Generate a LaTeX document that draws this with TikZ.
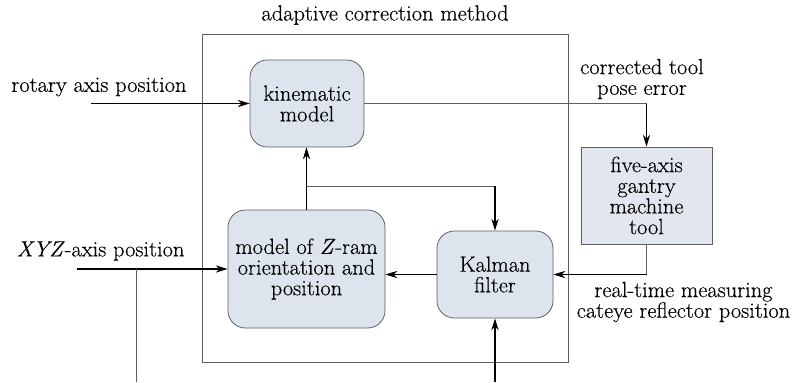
\documentclass[tikz,border=0pt]{standalone}
\usepackage{fontspec}
\setmainfont{Latin Modern Roman}[FakeStretch=1.02, FakeBold=0.3]
\usepackage{tikz}
\usetikzlibrary{arrows.meta,positioning}

\definecolor{blockfill}{RGB}{221,228,238}
\definecolor{plantfill}{RGB}{226,231,239}
\definecolor{edgegray}{RGB}{95,95,95}

\tikzset{
  block/.style={draw=edgegray, fill=blockfill, rounded corners=13pt, align=center, inner sep=0pt, line width=0.6pt},
  plant/.style={draw=edgegray, fill=plantfill, align=center, inner sep=0pt, line width=0.6pt},
  feed/.style={line width=0.9pt, -{Stealth[length=9pt,width=5.5pt,inset=3pt]}},
  wire/.style={draw=edgegray, line width=0.5pt},
  lbl/.style={align=center, inner sep=0.75pt},
}

\begin{document}
\begin{tikzpicture}[x=0.75pt,y=0.75pt,yscale=-1,xscale=1,
  every node/.style={font=\fontsize{16.5}{15.5}\selectfont}]
\useasboundingbox (0,0) rectangle (798,382);

%Frame of the correction method
\draw [draw=edgegray, line width=0.6pt] (202,34) rectangle (568,362);
\node [lbl] (title) at (385,15) {adaptive correction method};

%Blocks
\node [block, minimum width=85.5pt, minimum height=65.25pt] (kin) at (307,103.5) {kinematic\\model};
\node [block, minimum width=117.75pt, minimum height=88.5pt] (zram) at (306.5,269) {model of \textit{Z}-ram\\orientation and\\position};
\node [block, minimum width=87pt, minimum height=65.25pt] (kal) at (495,274.5) {Kalman\\filter};
\node [plant, minimum width=98.25pt, minimum height=72.75pt] (mach) at (646.5,195.5) {five-axis\\gantry\\machine\\tool};

%Text labels
\node [lbl] (rotlbl) at (99,87) {rotary axis position};
\node [lbl] (xyzlbl) at (100.5,251) {\textit{XYZ}-axis position};
\node [lbl] (errlbl) at (642,79) {corrected tool\\pose error};
\node [lbl] (meslbl) at (683.5,302) {real-time measuring\\cateye reflector position};

%Free ends
\coordinate (rotin) at (91,103.5);
\coordinate (xyzin) at (77,269);
\coordinate (xyztap) at (136,269);
\coordinate (xyzend) at (136,382);
\coordinate (kalin) at (495,382);
\coordinate (split) at (307,186);

%Inputs
\draw [feed] (rotin) -- (kin.west);
\draw [feed] (xyzin) -- (zram.west);
\draw [wire] (xyztap) -- (xyzend);
\draw [feed] (kalin) -- (kal.south);

%Internal connections
\draw [feed] (zram.north) -- (zram.north |- kin.south);
\draw [wire] (split) -- (split -| kal.north);
\draw [feed] (split -| kal.north) -- (kal.north);
\draw [feed] (kal.west) -- (kal.west -| zram.east);

%Loop through the machine
\draw [wire] (kin.east) -- (kin.east -| mach.north);
\draw [feed] (kin.east -| mach.north) -- (mach.north);
\draw [wire] (mach.south) -- (mach.south |- kal.east);
\draw [feed] (mach.south |- kal.east) -- (kal.east);

\end{tikzpicture}
\end{document}
